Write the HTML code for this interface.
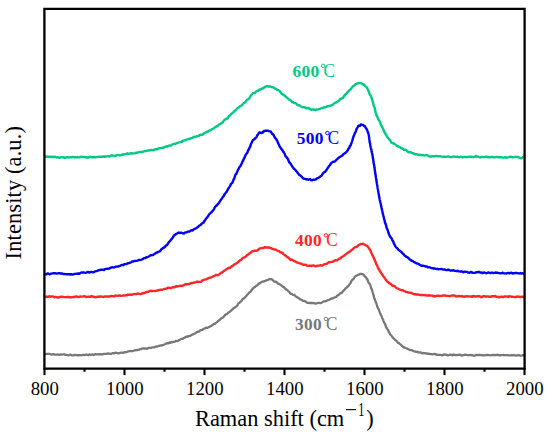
<!DOCTYPE html>
<html><head><meta charset="utf-8"><style>
html,body{margin:0;padding:0;background:#fff;}
svg{display:block;}
text{font-family:"Liberation Serif",serif;}
.tl{font-size:19.3px;fill:#000;}
.ax{font-size:22.4px;fill:#000;}
.lab{font-size:17.4px;font-weight:bold;letter-spacing:0.3px;}
.labc{font-size:18px;}
</style></head><body>
<svg width="550" height="436" viewBox="0 0 550 436">
<rect x="0" y="0" width="550" height="436" fill="#fff"/>
<path d="M44.50,354.02 L45.81,354.12 L46.61,353.97 L47.53,353.83 L48.50,353.92 L49.50,353.90 L50.50,354.28 L51.49,354.64 L52.49,354.24 L53.49,354.21 L54.49,354.55 L55.49,354.62 L56.49,354.54 L57.49,354.35 L58.48,354.65 L59.48,354.84 L60.48,354.43 L61.48,354.53 L62.48,354.28 L63.47,354.38 L64.47,354.42 L65.47,354.82 L66.47,354.78 L67.47,355.19 L68.47,355.28 L69.47,355.08 L70.47,354.56 L71.47,355.04 L72.46,355.33 L73.46,355.31 L74.46,354.93 L75.46,355.08 L76.46,354.99 L77.46,355.09 L78.46,355.48 L79.46,355.07 L80.46,355.18 L81.46,355.34 L82.46,354.96 L83.46,354.97 L84.45,355.00 L85.45,354.87 L86.45,354.52 L87.45,354.83 L88.45,355.03 L89.45,354.37 L90.44,354.76 L91.44,354.60 L92.44,354.44 L93.44,355.00 L94.44,354.65 L95.44,354.06 L96.43,354.28 L97.43,354.41 L98.43,354.24 L99.43,354.36 L100.43,354.21 L101.43,354.38 L102.43,354.47 L103.43,353.93 L104.43,353.96 L105.43,353.82 L106.43,353.81 L107.42,353.46 L108.42,353.52 L109.42,353.67 L110.42,353.95 L111.42,353.88 L112.41,353.16 L113.41,353.18 L114.41,353.38 L115.41,352.74 L116.40,352.95 L117.40,353.14 L118.39,353.42 L119.39,353.19 L120.39,352.76 L121.38,352.59 L122.37,352.60 L123.36,352.85 L124.35,352.27 L125.34,352.06 L126.32,352.05 L127.30,351.76 L128.28,351.45 L129.26,351.05 L130.24,351.07 L131.22,350.91 L132.20,351.10 L133.18,350.82 L134.16,350.46 L135.14,350.38 L136.13,350.05 L137.12,350.15 L138.10,349.81 L139.09,349.65 L140.08,349.10 L141.07,349.17 L142.05,348.53 L143.04,348.26 L144.03,348.54 L145.02,348.39 L146.01,348.63 L147.00,348.94 L147.99,348.07 L148.97,347.83 L149.96,347.93 L150.94,347.84 L151.93,347.49 L152.91,347.31 L153.89,347.36 L154.87,347.09 L155.86,346.52 L156.84,346.51 L157.81,346.31 L158.77,345.84 L159.73,345.79 L160.69,345.38 L161.64,345.49 L162.61,345.10 L163.57,344.72 L164.54,344.29 L165.50,344.01 L166.46,343.29 L167.42,343.22 L168.37,343.24 L169.33,342.52 L170.29,342.77 L171.25,342.11 L172.22,342.30 L173.18,341.84 L174.15,341.90 L175.10,341.43 L176.06,340.79 L177.01,341.17 L177.95,340.96 L178.89,340.19 L179.82,339.69 L180.75,339.29 L181.67,338.81 L182.59,338.85 L183.51,338.15 L184.43,337.75 L185.34,337.18 L186.26,336.76 L187.19,336.36 L188.12,336.59 L189.06,336.07 L190.01,335.92 L190.95,335.34 L191.88,334.75 L192.80,334.41 L193.70,333.99 L194.60,333.66 L195.48,333.13 L196.36,332.58 L197.23,331.83 L198.10,331.58 L198.97,331.67 L199.85,330.67 L200.73,330.04 L201.63,330.02 L202.53,329.82 L203.45,328.77 L204.38,328.56 L205.33,328.13 L206.28,327.62 L207.22,327.89 L208.15,327.48 L209.07,327.03 L209.98,326.45 L210.86,326.23 L211.74,325.56 L212.59,325.04 L213.44,324.25 L214.27,323.76 L215.08,323.78 L215.89,322.87 L216.68,322.36 L217.47,321.68 L218.24,320.91 L219.01,320.29 L219.77,319.90 L220.53,319.07 L221.29,318.41 L222.05,317.90 L222.82,317.55 L223.58,316.82 L224.34,316.00 L225.10,315.02 L225.86,314.23 L226.63,314.19 L227.40,313.64 L228.19,312.75 L228.97,312.27 L229.76,311.76 L230.54,311.17 L231.31,310.48 L232.08,309.58 L232.85,309.24 L233.61,308.07 L234.37,307.82 L235.12,307.20 L235.86,306.68 L236.59,306.28 L237.32,305.38 L238.04,303.90 L238.76,303.04 L239.48,302.91 L240.20,301.91 L240.91,301.44 L241.63,300.89 L242.34,299.51 L243.05,298.67 L243.76,298.59 L244.47,297.95 L245.18,297.16 L245.88,296.46 L246.59,295.48 L247.29,294.61 L247.99,294.18 L248.67,293.27 L249.33,292.42 L249.98,292.18 L250.62,291.41 L251.26,290.66 L251.91,289.57 L252.60,288.84 L253.32,288.08 L254.06,287.49 L254.82,287.09 L255.57,286.29 L256.31,285.88 L257.04,285.37 L257.79,284.99 L258.57,283.67 L259.40,283.50 L260.27,282.89 L261.17,282.34 L262.08,281.62 L263.01,281.52 L263.95,281.51 L264.87,281.00 L265.79,280.59 L266.71,280.21 L267.64,280.20 L268.57,279.60 L269.51,278.94 L270.43,279.27 L271.34,279.20 L272.23,279.32 L273.11,280.56 L274.00,281.61 L274.89,281.73 L275.78,281.76 L276.66,282.33 L277.54,283.34 L278.41,283.67 L279.28,284.06 L280.14,284.53 L280.99,285.12 L281.82,285.88 L282.61,286.44 L283.37,286.89 L284.11,287.28 L284.85,288.24 L285.59,288.77 L286.34,289.72 L287.09,289.89 L287.84,290.73 L288.58,291.42 L289.33,291.90 L290.10,293.30 L290.89,293.88 L291.72,293.95 L292.58,294.67 L293.44,294.95 L294.30,294.77 L295.15,295.90 L295.98,296.54 L296.81,297.05 L297.64,297.33 L298.49,298.01 L299.36,298.65 L300.25,299.44 L301.14,299.72 L302.02,300.12 L302.90,300.88 L303.78,300.86 L304.67,301.13 L305.59,301.33 L306.53,302.48 L307.48,302.79 L308.45,302.94 L309.43,303.00 L310.42,302.96 L311.42,303.02 L312.41,302.98 L313.41,303.04 L314.41,303.25 L315.40,303.64 L316.40,303.42 L317.40,303.13 L318.39,302.86 L319.38,302.82 L320.36,303.20 L321.33,302.77 L322.28,302.28 L323.24,301.79 L324.18,301.29 L325.12,301.25 L326.06,301.16 L327.00,300.53 L327.94,300.16 L328.88,299.84 L329.81,299.48 L330.74,298.74 L331.67,298.61 L332.59,298.23 L333.49,298.15 L334.38,297.43 L335.26,297.28 L336.11,297.00 L336.95,295.99 L337.78,295.28 L338.59,294.89 L339.39,294.23 L340.18,293.41 L340.96,293.23 L341.73,292.98 L342.49,291.79 L343.24,290.96 L343.98,290.13 L344.70,289.68 L345.39,288.61 L346.06,287.96 L346.72,287.75 L347.36,286.64 L348.00,286.32 L348.62,285.70 L349.23,284.60 L349.82,283.89 L350.41,283.36 L350.98,282.00 L351.55,280.89 L352.13,279.92 L352.71,279.54 L353.32,279.21 L353.96,278.28 L354.65,277.00 L355.38,276.27 L356.16,275.81 L356.99,275.47 L357.84,274.91 L358.72,274.56 L359.62,274.20 L360.52,273.82 L361.42,273.81 L362.29,274.04 L363.13,274.38 L363.89,275.16 L364.57,276.18 L365.17,276.64 L365.73,277.12 L366.25,277.58 L366.75,278.77 L367.24,279.15 L367.71,280.18 L368.17,281.72 L368.62,282.66 L369.09,283.20 L369.55,283.67 L370.02,284.82 L370.46,285.79 L370.87,287.14 L371.23,288.48 L371.56,288.89 L371.85,289.42 L372.12,290.28 L372.40,291.52 L372.68,292.45 L372.97,293.20 L373.27,294.38 L373.58,295.19 L373.89,296.69 L374.20,297.77 L374.51,298.63 L374.82,299.20 L375.13,300.30 L375.43,301.11 L375.74,301.95 L376.06,302.84 L376.39,303.51 L376.73,304.49 L377.08,305.98 L377.45,306.80 L377.83,307.82 L378.22,308.82 L378.62,309.08 L379.03,310.15 L379.43,311.40 L379.83,312.39 L380.21,313.20 L380.59,314.42 L380.97,315.12 L381.35,315.61 L381.74,316.63 L382.14,318.03 L382.55,318.81 L382.97,319.23 L383.39,320.86 L383.81,321.79 L384.24,322.76 L384.66,323.23 L385.07,324.01 L385.48,324.92 L385.87,326.65 L386.28,327.13 L386.69,328.24 L387.12,328.67 L387.57,329.54 L388.04,330.04 L388.53,331.24 L389.03,332.43 L389.55,332.88 L390.08,334.20 L390.63,334.88 L391.20,335.31 L391.79,336.18 L392.41,337.04 L393.05,337.89 L393.71,338.51 L394.40,339.15 L395.12,339.93 L395.85,340.42 L396.61,341.03 L397.37,342.06 L398.14,342.89 L398.91,343.00 L399.68,343.89 L400.44,344.42 L401.22,345.03 L402.01,346.04 L402.83,346.46 L403.67,347.34 L404.54,347.38 L405.42,347.99 L406.33,348.28 L407.24,348.57 L408.17,349.25 L409.10,349.53 L410.04,350.01 L410.98,350.15 L411.92,350.22 L412.86,350.78 L413.81,351.25 L414.76,351.70 L415.72,351.55 L416.69,351.84 L417.66,351.81 L418.63,352.49 L419.61,352.32 L420.59,352.31 L421.57,353.00 L422.56,353.44 L423.55,352.95 L424.54,353.08 L425.53,353.30 L426.52,353.42 L427.52,353.86 L428.51,353.72 L429.51,353.83 L430.50,354.20 L431.50,354.05 L432.50,354.29 L433.50,354.02 L434.49,353.90 L435.49,354.01 L436.49,354.96 L437.48,354.69 L438.48,354.78 L439.48,354.82 L440.47,354.92 L441.47,355.05 L442.47,355.43 L443.47,354.71 L444.47,354.44 L445.47,354.56 L446.47,354.64 L447.47,355.23 L448.47,355.28 L449.47,354.77 L450.47,354.61 L451.47,354.99 L452.47,355.29 L453.47,354.43 L454.47,355.02 L455.47,354.91 L456.47,355.28 L457.47,354.87 L458.47,354.89 L459.47,354.64 L460.47,354.86 L461.47,355.52 L462.47,355.44 L463.47,355.04 L464.47,354.78 L465.47,354.55 L466.47,354.94 L467.47,355.13 L468.47,355.14 L469.47,355.08 L470.47,354.86 L471.47,355.10 L472.47,355.26 L473.47,355.67 L474.47,355.79 L475.47,355.23 L476.47,354.98 L477.47,355.12 L478.47,355.00 L479.47,354.98 L480.47,355.11 L481.47,354.97 L482.47,355.34 L483.47,355.26 L484.47,355.30 L485.47,355.17 L486.47,354.98 L487.47,354.94 L488.47,355.11 L489.47,355.11 L490.47,355.30 L491.47,355.21 L492.47,354.90 L493.47,355.14 L494.47,354.88 L495.47,355.02 L496.47,355.05 L497.47,354.71 L498.47,355.21 L499.47,355.34 L500.47,355.25 L501.47,355.16 L502.47,355.13 L503.47,355.01 L504.47,355.16 L505.47,355.16 L506.47,355.25 L507.47,355.02 L508.47,355.34 L509.47,355.39 L510.47,355.29 L511.47,355.25 L512.47,355.38 L513.47,354.95 L514.47,355.41 L515.47,355.48 L516.47,355.49 L517.47,355.46 L518.47,355.20 L519.47,355.31 L520.46,355.57 L521.44,355.56 L522.36,355.38 L523.17,355.02 L523.78,355.53 L524.50,355.76" fill="none" stroke="#787878" stroke-width="2.3" stroke-linejoin="round" stroke-linecap="butt"/>
<path d="M44.50,297.10 L45.81,296.85 L46.61,296.46 L47.53,297.00 L48.51,296.72 L49.50,296.17 L50.50,296.74 L51.50,296.42 L52.50,296.41 L53.50,296.74 L54.50,297.23 L55.50,296.93 L56.50,297.11 L57.50,297.56 L58.50,297.52 L59.50,297.03 L60.50,296.84 L61.50,296.58 L62.50,296.75 L63.50,297.10 L64.50,297.14 L65.50,297.11 L66.50,297.23 L67.50,296.83 L68.50,296.97 L69.50,297.21 L70.50,297.24 L71.50,297.32 L72.50,297.11 L73.50,296.90 L74.50,296.95 L75.50,296.56 L76.50,296.42 L77.50,296.95 L78.50,296.92 L79.50,296.85 L80.50,296.37 L81.50,296.60 L82.50,296.58 L83.50,296.39 L84.50,296.09 L85.50,296.60 L86.50,297.02 L87.50,296.87 L88.50,296.59 L89.50,296.73 L90.50,296.75 L91.50,295.95 L92.50,296.51 L93.50,296.84 L94.50,296.96 L95.50,297.21 L96.50,297.04 L97.50,296.75 L98.50,296.71 L99.50,296.74 L100.49,296.40 L101.49,296.49 L102.49,296.81 L103.49,297.01 L104.49,296.45 L105.49,296.34 L106.49,296.45 L107.49,296.67 L108.49,296.41 L109.49,296.56 L110.49,295.98 L111.49,296.01 L112.49,296.08 L113.49,296.33 L114.49,296.26 L115.48,295.55 L116.48,295.59 L117.48,295.86 L118.48,295.54 L119.48,295.33 L120.48,295.90 L121.47,295.83 L122.47,295.66 L123.47,295.39 L124.46,295.59 L125.46,295.31 L126.45,295.39 L127.45,294.80 L128.44,294.65 L129.43,294.78 L130.43,294.56 L131.42,294.74 L132.41,294.51 L133.40,294.09 L134.40,294.14 L135.39,294.02 L136.38,294.12 L137.37,293.64 L138.36,293.56 L139.35,293.95 L140.34,294.18 L141.33,293.91 L142.31,293.21 L143.30,293.05 L144.28,293.15 L145.26,292.52 L146.23,292.02 L147.20,292.05 L148.16,291.87 L149.13,291.24 L150.10,290.75 L151.08,290.75 L152.07,291.19 L153.06,290.89 L154.05,290.92 L155.04,290.98 L156.03,290.91 L157.02,290.56 L158.00,290.48 L158.99,290.00 L159.97,289.84 L160.95,289.63 L161.93,289.93 L162.91,289.48 L163.88,289.00 L164.85,288.84 L165.82,288.71 L166.79,288.59 L167.76,287.79 L168.73,287.61 L169.70,287.77 L170.68,288.30 L171.65,287.74 L172.63,287.18 L173.60,287.21 L174.58,287.29 L175.56,286.52 L176.54,286.25 L177.52,286.45 L178.51,286.17 L179.49,285.93 L180.47,285.58 L181.46,286.00 L182.44,285.83 L183.42,285.32 L184.40,284.93 L185.38,284.14 L186.37,284.48 L187.35,284.24 L188.33,284.19 L189.31,284.03 L190.28,283.47 L191.26,282.94 L192.24,283.16 L193.21,282.77 L194.19,282.59 L195.16,282.33 L196.14,282.05 L197.11,281.50 L198.09,282.09 L199.06,281.85 L200.03,281.84 L201.00,281.77 L201.96,280.91 L202.93,280.06 L203.88,279.89 L204.82,279.57 L205.76,279.43 L206.68,279.14 L207.60,278.34 L208.52,278.37 L209.44,277.70 L210.36,277.68 L211.28,277.28 L212.21,276.83 L213.14,276.48 L214.06,275.99 L214.99,275.49 L215.90,274.89 L216.81,274.99 L217.71,275.19 L218.61,274.85 L219.50,274.18 L220.38,273.41 L221.25,272.63 L222.11,272.55 L222.96,271.73 L223.80,271.08 L224.63,270.49 L225.47,270.00 L226.32,269.37 L227.18,268.87 L228.05,268.17 L228.92,267.98 L229.79,268.13 L230.65,267.11 L231.50,266.45 L232.35,266.13 L233.19,265.57 L234.01,264.57 L234.83,264.21 L235.64,263.95 L236.44,263.23 L237.24,262.63 L238.04,262.29 L238.84,261.20 L239.65,260.65 L240.45,260.06 L241.27,259.79 L242.08,258.45 L242.90,258.03 L243.71,257.63 L244.51,257.38 L245.31,256.88 L246.11,256.32 L246.91,255.08 L247.72,254.90 L248.54,254.15 L249.36,253.48 L250.19,253.16 L251.04,252.23 L251.91,251.44 L252.80,251.36 L253.72,250.83 L254.66,250.75 L255.61,250.78 L256.54,250.57 L257.47,250.45 L258.38,249.55 L259.29,248.71 L260.21,248.47 L261.15,248.13 L262.10,247.88 L263.07,248.06 L264.04,247.59 L265.02,247.14 L266.00,247.59 L266.98,247.44 L267.96,247.46 L268.94,247.51 L269.90,247.77 L270.84,247.98 L271.76,248.59 L272.66,248.85 L273.56,249.22 L274.46,249.52 L275.38,249.46 L276.31,250.07 L277.24,250.51 L278.16,250.92 L279.07,251.11 L279.95,252.22 L280.81,252.39 L281.66,252.44 L282.47,252.87 L283.27,253.85 L284.06,254.56 L284.85,255.06 L285.65,255.81 L286.45,256.31 L287.27,257.11 L288.09,257.43 L288.92,258.16 L289.75,259.12 L290.61,259.92 L291.49,259.52 L292.37,259.90 L293.25,260.39 L294.13,261.18 L295.01,261.25 L295.89,261.83 L296.77,262.41 L297.66,262.62 L298.57,263.01 L299.49,263.42 L300.43,263.36 L301.39,263.78 L302.36,264.36 L303.33,264.76 L304.31,264.79 L305.29,264.61 L306.26,265.16 L307.24,265.77 L308.22,265.89 L309.21,265.75 L310.20,265.62 L311.20,265.95 L312.20,265.69 L313.19,265.49 L314.19,265.70 L315.18,266.25 L316.18,266.03 L317.17,266.01 L318.16,265.58 L319.15,265.66 L320.14,265.23 L321.12,265.29 L322.08,265.78 L323.04,265.13 L323.98,264.39 L324.91,264.13 L325.85,263.99 L326.80,263.84 L327.74,263.02 L328.68,262.31 L329.61,262.31 L330.54,262.13 L331.48,261.89 L332.41,261.83 L333.35,261.32 L334.29,260.95 L335.23,260.24 L336.16,260.40 L337.08,260.39 L337.97,259.63 L338.86,258.93 L339.73,258.49 L340.59,258.27 L341.45,257.14 L342.29,256.70 L343.11,256.36 L343.93,255.83 L344.75,254.98 L345.56,254.50 L346.38,253.84 L347.20,253.33 L348.03,252.66 L348.85,251.86 L349.66,251.58 L350.46,251.19 L351.24,250.15 L352.01,249.66 L352.77,249.21 L353.54,248.21 L354.31,247.75 L355.10,247.00 L355.91,247.03 L356.74,246.92 L357.58,246.24 L358.44,245.14 L359.30,244.77 L360.20,244.26 L361.12,244.04 L362.07,244.15 L363.02,243.63 L363.95,244.27 L364.84,244.55 L365.69,245.29 L366.50,245.55 L367.24,245.94 L367.93,246.89 L368.56,247.80 L369.11,248.47 L369.62,249.35 L370.08,249.88 L370.52,250.44 L370.95,252.09 L371.39,253.08 L371.83,253.81 L372.26,254.71 L372.70,255.79 L373.13,256.31 L373.55,257.09 L373.97,258.21 L374.36,259.39 L374.73,259.84 L375.10,261.22 L375.46,261.77 L375.83,262.60 L376.21,264.08 L376.61,264.68 L377.04,265.22 L377.47,266.39 L377.93,267.72 L378.40,268.65 L378.88,269.14 L379.37,270.17 L379.87,271.09 L380.37,271.65 L380.89,272.68 L381.42,273.45 L381.95,274.13 L382.50,274.98 L383.07,275.96 L383.66,276.76 L384.26,277.39 L384.89,278.26 L385.53,279.41 L386.20,280.04 L386.88,280.93 L387.58,281.73 L388.30,282.36 L389.05,283.27 L389.83,283.23 L390.62,284.04 L391.43,284.53 L392.26,285.62 L393.09,286.05 L393.93,285.62 L394.77,286.32 L395.61,287.37 L396.48,288.00 L397.36,288.42 L398.25,288.67 L399.15,289.21 L400.06,289.66 L400.98,289.93 L401.90,290.39 L402.83,290.09 L403.75,290.98 L404.68,291.17 L405.62,291.91 L406.56,292.00 L407.50,292.13 L408.46,292.66 L409.43,292.63 L410.40,292.75 L411.37,292.87 L412.35,293.49 L413.33,293.95 L414.32,294.22 L415.31,294.15 L416.30,294.50 L417.28,294.43 L418.27,294.53 L419.26,294.89 L420.25,295.13 L421.24,294.90 L422.23,294.96 L423.23,295.08 L424.22,295.16 L425.22,295.07 L426.22,295.52 L427.22,295.34 L428.22,295.46 L429.22,295.27 L430.22,295.58 L431.22,295.65 L432.21,295.62 L433.21,296.20 L434.21,296.01 L435.21,296.29 L436.21,296.09 L437.21,295.64 L438.21,295.70 L439.21,295.96 L440.21,295.94 L441.21,295.92 L442.21,295.76 L443.21,295.44 L444.21,295.70 L445.21,295.41 L446.21,295.97 L447.21,295.84 L448.21,295.83 L449.21,296.01 L450.21,296.10 L451.21,295.65 L452.21,295.51 L453.21,295.64 L454.21,295.48 L455.21,295.89 L456.21,296.53 L457.21,296.05 L458.21,296.26 L459.20,295.91 L460.20,296.23 L461.20,296.18 L462.20,296.27 L463.20,296.54 L464.20,296.83 L465.20,296.47 L466.20,296.30 L467.20,296.09 L468.20,296.42 L469.20,296.36 L470.20,296.57 L471.20,296.51 L472.20,296.74 L473.20,295.92 L474.20,296.25 L475.20,296.62 L476.20,296.33 L477.20,296.18 L478.20,296.25 L479.20,296.07 L480.20,296.57 L481.20,297.25 L482.20,296.90 L483.20,296.22 L484.20,296.19 L485.20,296.43 L486.20,296.76 L487.20,296.35 L488.20,296.38 L489.20,296.84 L490.20,296.87 L491.20,296.49 L492.20,296.19 L493.20,296.09 L494.20,296.22 L495.20,296.03 L496.20,296.71 L497.20,296.58 L498.20,296.90 L499.20,297.32 L500.20,297.09 L501.20,296.53 L502.20,296.98 L503.20,297.08 L504.20,296.56 L505.20,296.45 L506.20,296.60 L507.20,296.43 L508.20,296.98 L509.20,296.17 L510.20,296.36 L511.20,296.69 L512.20,296.79 L513.20,296.92 L514.20,296.95 L515.20,296.92 L516.20,297.08 L517.20,296.38 L518.20,296.75 L519.20,296.75 L520.20,296.96 L521.18,296.98 L522.11,296.69 L522.95,296.80 L523.62,297.19 L524.50,297.15" fill="none" stroke="#ff2626" stroke-width="2.4" stroke-linejoin="round" stroke-linecap="butt"/>
<path d="M44.50,273.73 L45.71,274.40 L46.55,274.37 L47.51,273.39 L48.50,273.73 L49.49,274.31 L50.49,273.88 L51.49,273.56 L52.49,273.36 L53.49,273.24 L54.49,273.29 L55.49,273.31 L56.49,273.60 L57.49,273.39 L58.49,273.30 L59.49,273.20 L60.49,273.47 L61.48,273.40 L62.48,273.68 L63.48,274.09 L64.48,274.05 L65.47,274.13 L66.47,274.19 L67.46,274.19 L68.46,274.21 L69.45,274.28 L70.45,274.50 L71.45,274.19 L72.44,274.64 L73.44,274.31 L74.44,273.93 L75.43,273.83 L76.42,273.71 L77.41,273.75 L78.40,273.52 L79.39,273.72 L80.38,273.05 L81.37,272.46 L82.36,272.58 L83.35,272.29 L84.34,272.69 L85.33,272.96 L86.32,272.66 L87.31,271.98 L88.30,272.04 L89.29,272.57 L90.28,272.16 L91.27,271.90 L92.26,272.11 L93.25,272.34 L94.23,271.87 L95.22,271.31 L96.20,271.13 L97.18,270.96 L98.16,270.41 L99.14,270.07 L100.12,270.10 L101.10,269.73 L102.08,269.73 L103.06,269.76 L104.04,270.01 L105.02,269.10 L106.00,268.92 L106.99,268.80 L107.97,268.81 L108.95,268.73 L109.93,268.13 L110.91,267.70 L111.89,267.29 L112.87,267.32 L113.84,267.52 L114.82,267.19 L115.79,266.67 L116.76,266.58 L117.74,266.52 L118.70,266.36 L119.67,265.85 L120.64,265.53 L121.60,264.89 L122.57,264.87 L123.52,265.18 L124.48,264.10 L125.43,264.12 L126.39,264.04 L127.33,263.57 L128.28,263.13 L129.22,262.99 L130.17,262.71 L131.11,262.25 L132.05,261.52 L133.00,261.54 L133.95,261.15 L134.91,260.95 L135.87,260.92 L136.83,260.83 L137.79,260.57 L138.75,260.01 L139.71,260.04 L140.65,259.87 L141.59,259.55 L142.53,259.18 L143.47,258.45 L144.43,258.12 L145.39,257.99 L146.35,257.25 L147.30,257.22 L148.23,256.77 L149.15,256.30 L150.04,255.53 L150.92,255.27 L151.81,255.16 L152.70,255.03 L153.61,254.63 L154.51,253.90 L155.40,253.31 L156.27,252.72 L157.14,252.48 L158.00,251.92 L158.87,251.69 L159.73,251.45 L160.57,250.40 L161.38,249.35 L162.17,248.79 L162.93,248.03 L163.68,247.56 L164.43,247.55 L165.18,246.63 L165.92,245.53 L166.62,245.37 L167.28,244.82 L167.90,243.61 L168.49,242.64 L169.07,241.93 L169.64,241.33 L170.22,240.68 L170.81,240.05 L171.41,239.30 L172.04,238.53 L172.69,237.78 L173.35,236.71 L174.00,235.39 L174.65,234.94 L175.33,234.45 L176.10,233.82 L176.95,233.64 L177.85,232.96 L178.77,232.56 L179.71,232.95 L180.67,232.81 L181.62,232.82 L182.56,233.24 L183.50,233.51 L184.42,233.24 L185.32,232.40 L186.20,232.41 L187.07,232.11 L187.94,231.59 L188.85,231.55 L189.78,231.45 L190.72,230.67 L191.65,230.23 L192.57,230.54 L193.47,229.57 L194.37,228.84 L195.24,228.74 L196.10,228.30 L196.93,227.54 L197.74,227.23 L198.53,226.32 L199.30,225.56 L200.07,225.23 L200.83,224.73 L201.58,223.77 L202.31,223.25 L203.02,222.66 L203.69,222.50 L204.33,221.05 L204.94,220.55 L205.52,219.45 L206.09,218.58 L206.66,218.00 L207.24,217.31 L207.85,216.57 L208.47,215.49 L209.11,214.41 L209.76,213.68 L210.41,213.22 L211.07,212.60 L211.73,212.02 L212.38,211.07 L213.01,210.45 L213.64,209.76 L214.26,208.52 L214.87,207.21 L215.49,206.39 L216.11,205.74 L216.73,205.64 L217.35,204.48 L217.96,204.08 L218.57,203.30 L219.17,202.74 L219.77,201.74 L220.36,200.58 L220.95,199.69 L221.53,198.95 L222.10,198.13 L222.67,197.15 L223.25,196.53 L223.83,196.00 L224.41,194.48 L224.99,193.95 L225.55,192.98 L226.10,192.42 L226.63,191.77 L227.15,190.75 L227.66,189.93 L228.18,188.62 L228.72,188.29 L229.26,187.21 L229.81,186.58 L230.35,185.53 L230.89,183.99 L231.42,183.55 L231.93,183.16 L232.43,182.64 L232.89,181.49 L233.32,180.40 L233.71,179.18 L234.06,178.97 L234.40,178.20 L234.76,176.78 L235.14,175.59 L235.55,174.43 L235.98,174.25 L236.40,173.89 L236.83,172.57 L237.26,171.66 L237.71,170.51 L238.20,169.31 L238.72,168.86 L239.24,167.49 L239.76,166.80 L240.27,166.17 L240.76,165.47 L241.24,164.49 L241.72,163.51 L242.18,162.27 L242.65,161.25 L243.10,160.66 L243.56,159.60 L244.00,158.49 L244.45,157.62 L244.89,156.86 L245.33,155.66 L245.77,154.80 L246.21,153.96 L246.65,153.57 L247.10,152.94 L247.55,152.30 L247.99,150.57 L248.44,149.79 L248.88,149.32 L249.32,148.19 L249.75,147.31 L250.16,146.84 L250.55,145.43 L250.93,144.14 L251.32,143.22 L251.72,142.76 L252.15,141.85 L252.65,140.55 L253.23,139.86 L253.90,139.61 L254.64,138.99 L255.39,138.09 L256.07,137.67 L256.67,136.82 L257.18,135.40 L257.66,134.85 L258.17,134.26 L258.77,133.22 L259.48,132.33 L260.28,132.58 L261.13,132.97 L261.96,132.95 L262.70,131.94 L263.38,132.30 L264.04,131.04 L264.76,130.89 L265.56,130.80 L266.41,130.72 L267.30,130.64 L268.21,130.67 L269.13,131.37 L270.04,131.36 L270.90,131.55 L271.69,133.37 L272.41,133.83 L273.06,134.60 L273.64,134.85 L274.19,136.20 L274.70,137.23 L275.20,138.00 L275.67,138.36 L276.13,138.89 L276.58,139.88 L277.00,140.30 L277.43,141.34 L277.86,142.70 L278.32,143.44 L278.80,144.49 L279.30,145.54 L279.82,146.93 L280.35,147.65 L280.88,148.15 L281.42,149.15 L281.97,149.53 L282.52,150.44 L283.05,151.53 L283.57,151.92 L284.07,152.86 L284.56,153.59 L285.04,154.89 L285.53,156.13 L286.05,156.47 L286.58,157.38 L287.12,157.95 L287.67,158.64 L288.21,159.61 L288.74,161.25 L289.28,162.40 L289.81,162.71 L290.34,163.19 L290.87,164.30 L291.41,165.00 L291.96,166.07 L292.52,166.82 L293.09,167.62 L293.69,168.44 L294.31,168.92 L294.95,169.59 L295.58,170.08 L296.21,171.08 L296.85,171.73 L297.49,172.75 L298.14,173.41 L298.82,174.41 L299.53,175.17 L300.25,175.39 L301.00,176.10 L301.78,176.82 L302.61,177.88 L303.48,178.67 L304.39,178.81 L305.32,178.89 L306.27,179.45 L307.23,179.16 L308.20,179.86 L309.19,179.41 L310.18,179.05 L311.18,180.40 L312.17,180.32 L313.16,179.63 L314.14,179.76 L315.09,179.58 L316.02,179.25 L316.90,178.45 L317.73,178.11 L318.51,177.86 L319.27,177.27 L320.02,176.80 L320.77,176.03 L321.53,175.76 L322.28,174.43 L323.00,173.71 L323.72,172.50 L324.43,172.01 L325.12,171.91 L325.77,170.77 L326.39,170.23 L326.96,169.27 L327.51,168.17 L328.05,167.46 L328.61,166.62 L329.17,165.87 L329.75,165.40 L330.35,164.57 L330.98,163.44 L331.66,162.63 L332.41,162.27 L333.22,161.72 L334.06,161.58 L334.91,161.48 L335.77,160.50 L336.62,159.61 L337.45,158.93 L338.27,158.16 L339.08,157.51 L339.88,156.91 L340.67,156.47 L341.46,155.95 L342.24,155.59 L343.02,154.72 L343.78,153.99 L344.52,153.22 L345.23,153.20 L345.92,152.41 L346.58,151.89 L347.19,150.94 L347.77,150.16 L348.30,148.93 L348.82,148.36 L349.32,147.87 L349.80,146.16 L350.27,145.75 L350.72,145.07 L351.13,143.85 L351.51,142.98 L351.86,142.09 L352.19,140.70 L352.51,139.86 L352.81,138.62 L353.12,137.65 L353.42,136.75 L353.74,135.96 L354.08,135.15 L354.44,134.21 L354.82,132.98 L355.21,132.87 L355.60,131.89 L355.99,130.73 L356.38,129.49 L356.79,128.63 L357.24,127.94 L357.77,126.98 L358.39,125.76 L359.11,125.81 L359.91,125.77 L360.78,124.39 L361.69,124.78 L362.58,124.92 L363.43,125.24 L364.20,126.05 L364.89,126.19 L365.49,127.27 L366.02,128.46 L366.49,128.93 L366.93,129.70 L367.34,130.71 L367.73,131.63 L368.08,132.94 L368.39,133.42 L368.64,134.61 L368.83,135.20 L368.97,136.57 L369.08,137.30 L369.19,137.69 L369.31,139.21 L369.44,140.09 L369.60,141.31 L369.78,142.74 L369.98,143.08 L370.18,144.07 L370.38,145.69 L370.58,146.53 L370.78,147.77 L370.98,148.41 L371.20,149.01 L371.41,150.23 L371.63,151.61 L371.84,152.53 L372.05,153.22 L372.26,154.14 L372.45,155.05 L372.63,156.05 L372.80,157.61 L372.96,158.13 L373.10,158.71 L373.25,159.89 L373.40,161.26 L373.54,162.25 L373.69,162.98 L373.85,163.81 L374.01,164.86 L374.18,165.42 L374.35,166.54 L374.51,168.07 L374.68,168.87 L374.83,170.08 L374.98,171.33 L375.13,172.17 L375.27,173.07 L375.42,174.54 L375.56,175.17 L375.70,175.85 L375.85,177.07 L375.99,177.95 L376.14,178.61 L376.29,179.78 L376.44,180.64 L376.59,181.21 L376.74,182.60 L376.90,183.65 L377.06,184.51 L377.23,185.22 L377.40,186.52 L377.57,187.69 L377.74,188.66 L377.91,189.40 L378.08,190.71 L378.26,191.33 L378.44,192.58 L378.61,193.94 L378.79,194.46 L378.98,195.47 L379.16,196.83 L379.34,197.49 L379.53,198.44 L379.72,199.63 L379.92,200.68 L380.12,200.86 L380.33,202.02 L380.54,203.03 L380.76,203.98 L380.97,205.02 L381.19,206.09 L381.41,207.32 L381.64,208.08 L381.87,209.29 L382.09,210.34 L382.32,211.06 L382.55,212.30 L382.78,213.68 L383.00,214.31 L383.23,214.96 L383.45,215.99 L383.68,216.83 L383.92,218.12 L384.16,219.23 L384.40,219.80 L384.65,220.92 L384.91,222.20 L385.17,222.83 L385.45,223.81 L385.75,224.47 L386.06,225.43 L386.38,226.64 L386.71,228.20 L387.04,228.57 L387.38,229.32 L387.72,230.27 L388.06,231.37 L388.41,232.53 L388.76,233.50 L389.14,234.81 L389.56,235.38 L390.02,236.43 L390.51,237.06 L391.02,237.81 L391.52,238.21 L391.99,239.34 L392.44,240.31 L392.88,241.05 L393.31,241.59 L393.73,243.15 L394.15,243.88 L394.58,244.70 L395.04,245.64 L395.56,246.55 L396.13,247.43 L396.78,247.77 L397.49,248.53 L398.23,249.55 L398.99,250.20 L399.76,250.68 L400.51,251.23 L401.27,251.85 L402.02,252.78 L402.77,253.70 L403.52,253.97 L404.25,255.19 L404.98,255.77 L405.70,256.13 L406.42,256.96 L407.15,257.07 L407.90,257.54 L408.67,258.33 L409.47,259.21 L410.30,259.84 L411.14,260.37 L411.99,260.91 L412.85,260.99 L413.72,261.98 L414.59,262.14 L415.47,262.72 L416.36,263.24 L417.27,263.46 L418.19,263.77 L419.12,264.28 L420.06,264.94 L421.01,265.48 L421.96,265.72 L422.92,265.58 L423.88,265.81 L424.85,266.12 L425.82,266.59 L426.79,266.40 L427.77,267.28 L428.75,267.18 L429.73,267.25 L430.71,267.77 L431.70,268.16 L432.68,268.22 L433.67,268.47 L434.66,268.46 L435.65,268.85 L436.64,268.97 L437.64,268.82 L438.63,269.22 L439.62,269.09 L440.61,269.07 L441.60,268.96 L442.59,269.28 L443.58,269.64 L444.57,269.38 L445.56,269.93 L446.55,270.09 L447.54,270.04 L448.53,269.60 L449.52,270.21 L450.51,270.58 L451.51,270.40 L452.50,270.51 L453.50,270.15 L454.49,270.88 L455.49,270.88 L456.48,271.16 L457.48,270.74 L458.47,271.32 L459.47,271.38 L460.46,271.61 L461.46,271.31 L462.45,271.57 L463.45,272.32 L464.44,271.75 L465.43,271.73 L466.43,271.92 L467.42,271.96 L468.42,272.65 L469.42,272.86 L470.42,272.20 L471.42,271.98 L472.41,272.75 L473.41,272.90 L474.41,272.84 L475.41,272.80 L476.41,272.29 L477.41,272.29 L478.41,272.00 L479.41,272.07 L480.41,272.66 L481.41,272.54 L482.41,273.16 L483.41,272.69 L484.41,272.47 L485.41,272.92 L486.41,273.23 L487.41,272.84 L488.41,272.41 L489.41,272.83 L490.41,273.12 L491.41,272.67 L492.41,272.61 L493.41,273.07 L494.41,272.88 L495.41,272.55 L496.41,272.69 L497.41,272.71 L498.41,273.00 L499.41,273.10 L500.41,273.38 L501.41,273.21 L502.41,272.70 L503.41,273.17 L504.41,273.42 L505.41,273.39 L506.41,273.46 L507.41,273.06 L508.40,272.99 L509.40,273.40 L510.40,272.92 L511.40,272.71 L512.40,273.46 L513.40,273.22 L514.40,273.19 L515.40,272.95 L516.40,272.94 L517.40,273.07 L518.40,273.38 L519.40,273.50 L520.40,273.01 L521.39,273.61 L522.35,273.29 L523.21,273.33 L523.86,273.80 L524.50,273.72" fill="none" stroke="#0000fa" stroke-width="2.4" stroke-linejoin="round" stroke-linecap="butt"/>
<path d="M44.50,156.08 L45.81,156.84 L46.61,156.40 L47.53,156.59 L48.50,156.77 L49.49,157.04 L50.49,156.73 L51.49,156.98 L52.49,156.74 L53.49,157.10 L54.49,156.76 L55.48,156.95 L56.48,157.57 L57.48,157.30 L58.48,157.33 L59.48,157.86 L60.48,157.44 L61.48,157.14 L62.48,157.42 L63.47,157.15 L64.47,157.72 L65.47,157.79 L66.47,157.30 L67.47,157.24 L68.47,157.45 L69.47,157.39 L70.47,157.19 L71.47,157.40 L72.47,156.85 L73.47,157.14 L74.47,157.24 L75.47,157.30 L76.47,157.36 L77.47,157.06 L78.47,157.41 L79.47,157.25 L80.47,157.01 L81.47,156.77 L82.47,156.85 L83.47,157.18 L84.47,156.94 L85.47,157.19 L86.47,157.50 L87.47,157.56 L88.47,157.56 L89.47,157.00 L90.47,156.76 L91.47,157.23 L92.47,157.17 L93.47,157.25 L94.47,157.02 L95.47,157.22 L96.46,157.15 L97.46,157.03 L98.46,156.91 L99.46,156.81 L100.46,156.70 L101.46,156.68 L102.46,156.75 L103.45,156.45 L104.45,156.81 L105.45,156.43 L106.45,156.49 L107.45,156.18 L108.44,156.13 L109.44,156.54 L110.44,155.88 L111.43,155.41 L112.43,155.45 L113.42,155.65 L114.42,156.15 L115.41,155.69 L116.41,155.55 L117.40,155.02 L118.39,155.18 L119.39,155.30 L120.38,155.37 L121.37,154.69 L122.36,154.76 L123.35,154.54 L124.35,154.08 L125.34,154.14 L126.33,153.87 L127.32,153.32 L128.31,153.88 L129.30,153.84 L130.29,153.37 L131.28,153.08 L132.27,153.60 L133.26,153.33 L134.25,153.34 L135.24,153.23 L136.22,152.64 L137.21,152.68 L138.20,152.32 L139.19,152.15 L140.17,152.00 L141.16,151.92 L142.15,152.02 L143.14,151.63 L144.12,151.33 L145.11,151.16 L146.10,151.09 L147.08,150.64 L148.07,150.54 L149.05,150.48 L150.04,150.20 L151.01,150.06 L151.99,149.89 L152.96,150.32 L153.94,150.01 L154.91,149.47 L155.89,149.19 L156.86,149.46 L157.84,148.83 L158.82,148.42 L159.79,148.29 L160.77,148.16 L161.74,148.14 L162.71,147.68 L163.67,147.74 L164.63,146.85 L165.59,146.72 L166.54,146.22 L167.50,146.49 L168.46,145.79 L169.42,145.52 L170.38,145.56 L171.35,145.30 L172.31,144.43 L173.27,144.16 L174.22,143.71 L175.18,143.76 L176.13,143.47 L177.08,143.05 L178.03,142.64 L178.97,142.36 L179.92,142.02 L180.86,142.08 L181.80,141.88 L182.74,140.74 L183.68,140.68 L184.61,140.42 L185.55,140.23 L186.50,139.59 L187.44,139.34 L188.38,138.91 L189.32,138.97 L190.27,138.56 L191.21,138.16 L192.16,137.92 L193.10,137.37 L194.04,136.77 L194.99,136.95 L195.93,136.63 L196.88,136.23 L197.82,136.21 L198.77,135.88 L199.72,134.95 L200.66,134.72 L201.61,135.05 L202.54,134.68 L203.47,133.67 L204.39,133.06 L205.30,132.78 L206.20,132.35 L207.09,131.70 L207.98,131.54 L208.85,130.79 L209.71,130.36 L210.57,130.34 L211.41,129.52 L212.24,129.09 L213.08,128.78 L213.91,128.26 L214.76,127.43 L215.61,126.90 L216.46,126.31 L217.30,126.37 L218.13,125.56 L218.95,124.50 L219.75,124.15 L220.54,123.79 L221.32,123.22 L222.10,122.92 L222.87,122.12 L223.63,120.95 L224.40,120.24 L225.16,119.38 L225.93,119.09 L226.70,118.67 L227.47,118.59 L228.24,117.24 L229.00,115.91 L229.74,115.55 L230.46,115.09 L231.17,114.07 L231.86,113.40 L232.55,112.89 L233.25,112.37 L233.97,111.53 L234.70,110.73 L235.46,110.42 L236.22,109.51 L237.00,108.75 L237.77,107.91 L238.55,107.48 L239.33,107.15 L240.10,106.06 L240.87,105.77 L241.63,105.37 L242.38,104.49 L243.13,103.85 L243.87,102.98 L244.60,102.89 L245.33,102.23 L246.05,101.17 L246.77,99.90 L247.48,99.40 L248.17,99.34 L248.85,98.85 L249.50,97.80 L250.11,97.09 L250.69,95.85 L251.27,95.08 L251.90,94.45 L252.60,93.82 L253.38,92.90 L254.23,93.02 L255.12,92.69 L256.01,91.57 L256.91,91.04 L257.80,91.01 L258.67,90.27 L259.52,89.43 L260.36,89.65 L261.20,89.09 L262.04,88.50 L262.91,88.59 L263.80,87.69 L264.70,86.97 L265.62,86.76 L266.56,86.28 L267.51,86.24 L268.48,86.49 L269.44,86.32 L270.39,86.46 L271.33,87.09 L272.23,87.17 L273.10,87.40 L273.96,87.74 L274.82,88.25 L275.67,88.93 L276.52,89.21 L277.35,90.03 L278.15,90.00 L278.92,90.58 L279.67,91.03 L280.41,91.97 L281.14,93.02 L281.87,93.89 L282.60,94.08 L283.34,94.79 L284.09,95.36 L284.85,95.85 L285.62,96.41 L286.40,97.26 L287.18,97.57 L287.96,98.60 L288.74,99.27 L289.52,99.67 L290.32,100.11 L291.14,100.74 L291.98,101.95 L292.86,101.88 L293.75,102.86 L294.65,103.14 L295.53,103.22 L296.39,103.56 L297.25,104.68 L298.12,105.33 L299.00,105.12 L299.91,105.63 L300.83,106.38 L301.77,106.71 L302.71,107.31 L303.65,107.08 L304.60,107.45 L305.55,107.53 L306.50,108.50 L307.46,108.12 L308.41,107.94 L309.38,108.69 L310.35,109.15 L311.33,109.76 L312.32,109.39 L313.32,109.46 L314.31,109.74 L315.31,109.94 L316.30,109.55 L317.29,109.62 L318.28,109.34 L319.26,108.91 L320.22,108.72 L321.18,108.38 L322.12,107.93 L323.06,107.98 L324.01,107.20 L324.95,107.44 L325.91,107.18 L326.87,106.57 L327.83,106.08 L328.78,105.95 L329.73,105.89 L330.67,105.63 L331.59,105.18 L332.49,104.83 L333.36,104.01 L334.22,103.52 L335.07,102.68 L335.91,102.65 L336.75,102.05 L337.59,101.41 L338.42,101.24 L339.24,100.43 L340.06,99.02 L340.88,98.96 L341.67,98.28 L342.41,98.35 L343.09,98.03 L343.72,96.55 L344.32,95.73 L344.94,94.93 L345.58,94.33 L346.25,93.75 L346.95,93.10 L347.65,91.95 L348.36,91.68 L349.05,90.48 L349.74,90.00 L350.43,89.57 L351.13,88.68 L351.82,87.48 L352.51,86.74 L353.20,86.13 L353.92,85.64 L354.66,85.19 L355.44,84.07 L356.25,83.87 L357.09,83.52 L357.96,83.14 L358.85,82.95 L359.75,83.15 L360.65,83.12 L361.54,83.47 L362.40,83.93 L363.22,84.58 L363.99,84.43 L364.72,85.68 L365.40,86.16 L366.04,86.79 L366.64,87.33 L367.20,87.95 L367.70,89.15 L368.16,90.11 L368.57,91.21 L368.96,91.82 L369.35,93.37 L369.75,94.10 L370.17,94.76 L370.59,95.50 L370.99,96.34 L371.36,97.20 L371.70,98.32 L371.99,99.45 L372.27,100.31 L372.55,100.98 L372.84,102.15 L373.15,103.06 L373.46,104.37 L373.77,105.78 L374.06,106.43 L374.33,106.98 L374.57,107.54 L374.80,108.48 L375.02,109.53 L375.27,111.07 L375.53,111.81 L375.82,112.87 L376.14,113.72 L376.47,114.89 L376.82,116.11 L377.19,116.56 L377.57,117.43 L377.96,118.33 L378.39,119.57 L378.84,120.02 L379.30,120.74 L379.78,121.54 L380.24,122.52 L380.68,124.06 L381.10,125.46 L381.51,125.61 L381.92,126.82 L382.33,127.56 L382.75,128.10 L383.18,129.16 L383.60,130.10 L384.02,131.04 L384.45,132.42 L384.89,132.53 L385.36,133.82 L385.86,134.75 L386.39,135.38 L386.96,136.39 L387.55,137.40 L388.15,138.06 L388.77,138.89 L389.40,139.60 L390.04,139.83 L390.70,141.45 L391.38,142.52 L392.11,142.89 L392.87,143.31 L393.67,143.30 L394.49,144.05 L395.31,144.51 L396.14,145.18 L396.98,146.07 L397.83,146.23 L398.69,146.71 L399.56,146.84 L400.45,147.70 L401.35,148.27 L402.25,148.50 L403.15,149.03 L404.06,149.99 L404.97,149.71 L405.87,150.01 L406.77,150.64 L407.67,151.71 L408.58,152.38 L409.50,152.25 L410.44,152.21 L411.39,152.62 L412.35,153.22 L413.31,153.16 L414.28,153.95 L415.25,154.24 L416.22,154.13 L417.20,154.44 L418.18,154.76 L419.15,155.04 L420.14,154.68 L421.12,155.23 L422.11,155.07 L423.09,155.07 L424.09,155.41 L425.08,155.44 L426.07,155.28 L427.07,155.20 L428.06,155.57 L429.06,156.39 L430.06,156.67 L431.05,156.43 L432.05,156.46 L433.05,156.10 L434.05,156.20 L435.05,156.30 L436.05,155.99 L437.05,156.05 L438.04,156.38 L439.04,156.32 L440.04,156.22 L441.04,156.58 L442.04,156.59 L443.04,156.89 L444.04,156.69 L445.04,156.60 L446.04,156.71 L447.04,156.65 L448.04,156.53 L449.04,156.67 L450.04,157.02 L451.04,157.12 L452.04,157.13 L453.04,156.43 L454.04,156.62 L455.04,156.74 L456.04,156.88 L457.04,156.74 L458.04,156.78 L459.04,157.11 L460.04,156.94 L461.04,156.69 L462.04,157.29 L463.04,157.26 L464.04,156.89 L465.04,157.10 L466.04,156.86 L467.04,157.21 L468.04,156.91 L469.04,156.70 L470.04,156.76 L471.04,156.74 L472.04,156.99 L473.04,157.03 L474.04,156.96 L475.04,156.61 L476.04,155.93 L477.04,156.68 L478.04,156.48 L479.04,157.02 L480.04,157.35 L481.04,157.13 L482.04,156.91 L483.04,156.93 L484.04,156.94 L485.04,156.83 L486.04,156.78 L487.04,156.81 L488.04,157.31 L489.04,157.16 L490.04,157.29 L491.04,157.04 L492.04,157.05 L493.04,157.04 L494.04,157.23 L495.04,157.34 L496.04,157.15 L497.04,156.86 L498.04,156.93 L499.04,157.49 L500.04,157.11 L501.04,157.10 L502.04,157.58 L503.04,157.56 L504.04,157.33 L505.04,157.21 L506.04,157.82 L507.04,157.46 L508.04,157.35 L509.04,157.10 L510.04,156.73 L511.04,156.79 L512.04,157.30 L513.04,157.37 L514.04,157.15 L515.04,156.85 L516.04,156.80 L517.04,157.04 L518.04,156.94 L519.04,157.56 L520.03,157.89 L521.02,158.27 L521.96,157.75 L522.82,157.21 L523.52,156.90 L524.50,156.38" fill="none" stroke="#00c984" stroke-width="2.4" stroke-linejoin="round" stroke-linecap="butt"/>
<path d="M44.4,8.9 H524.6 V368.6 H44.4 Z" fill="none" stroke="#000" stroke-width="2.3"/>
<line x1="44.50" y1="368" x2="44.50" y2="375.10" stroke="#000" stroke-width="2.1"/>
<line x1="84.50" y1="368" x2="84.50" y2="371.80" stroke="#000" stroke-width="2.1"/>
<line x1="124.50" y1="368" x2="124.50" y2="375.10" stroke="#000" stroke-width="2.1"/>
<line x1="164.50" y1="368" x2="164.50" y2="371.80" stroke="#000" stroke-width="2.1"/>
<line x1="204.50" y1="368" x2="204.50" y2="375.10" stroke="#000" stroke-width="2.1"/>
<line x1="244.50" y1="368" x2="244.50" y2="371.80" stroke="#000" stroke-width="2.1"/>
<line x1="284.50" y1="368" x2="284.50" y2="375.10" stroke="#000" stroke-width="2.1"/>
<line x1="324.50" y1="368" x2="324.50" y2="371.80" stroke="#000" stroke-width="2.1"/>
<line x1="364.50" y1="368" x2="364.50" y2="375.10" stroke="#000" stroke-width="2.1"/>
<line x1="404.50" y1="368" x2="404.50" y2="371.80" stroke="#000" stroke-width="2.1"/>
<line x1="444.50" y1="368" x2="444.50" y2="375.10" stroke="#000" stroke-width="2.1"/>
<line x1="484.50" y1="368" x2="484.50" y2="371.80" stroke="#000" stroke-width="2.1"/>
<line x1="524.50" y1="368" x2="524.50" y2="375.10" stroke="#000" stroke-width="2.1"/>
<text transform="translate(44.80,395.4) scale(0.975,1.0)" text-anchor="middle" class="tl">800</text>
<text transform="translate(124.80,395.4) scale(0.975,1.0)" text-anchor="middle" class="tl">1000</text>
<text transform="translate(204.80,395.4) scale(0.975,1.0)" text-anchor="middle" class="tl">1200</text>
<text transform="translate(284.80,395.4) scale(0.975,1.0)" text-anchor="middle" class="tl">1400</text>
<text transform="translate(364.80,395.4) scale(0.975,1.0)" text-anchor="middle" class="tl">1600</text>
<text transform="translate(444.80,395.4) scale(0.975,1.0)" text-anchor="middle" class="tl">1800</text>
<text transform="translate(524.80,395.4) scale(0.975,1.0)" text-anchor="middle" class="tl">2000</text>
<text x="195" y="425.8" class="ax">Raman shift (cm</text>
<rect x="346" y="409.1" width="10" height="1.1" fill="#000"/>
<text transform="translate(358.3,415.7) scale(0.72,1.1)" style="font-size:17px">1</text>
<text x="366.3" y="425.8" class="ax">)</text>
<text transform="translate(21.2,259.4) rotate(-90)" class="ax" style="letter-spacing:0.14px">Intensity (a.u.)</text>
<text transform="translate(292.60,76.60) scale(1,1.02)" class="lab" fill="#00c984">600</text><circle cx="323.10" cy="65.90" r="1.75" fill="none" stroke="#00c984" stroke-width="0.95"/><text transform="translate(323.60,76.60) scale(0.95,1)" class="labc" fill="#00c984">C</text>
<text transform="translate(296.70,143.80) scale(1,1.02)" class="lab" fill="#0000fa">500</text><circle cx="327.40" cy="133.10" r="1.75" fill="none" stroke="#0000fa" stroke-width="0.95"/><text transform="translate(327.80,143.80) scale(0.95,1)" class="labc" fill="#0000fa">C</text>
<text transform="translate(295.10,246.00) scale(1,1.02)" class="lab" fill="#ff2626">400</text><circle cx="325.90" cy="235.30" r="1.75" fill="none" stroke="#ff2626" stroke-width="0.95"/><text transform="translate(326.30,246.00) scale(0.95,1)" class="labc" fill="#ff2626">C</text>
<text transform="translate(294.90,329.60) scale(1,1.02)" class="lab" fill="#787878">300</text><circle cx="325.90" cy="318.90" r="1.75" fill="none" stroke="#787878" stroke-width="0.95"/><text transform="translate(326.00,329.60) scale(0.95,1)" class="labc" fill="#787878">C</text>
</svg>
</body></html>
